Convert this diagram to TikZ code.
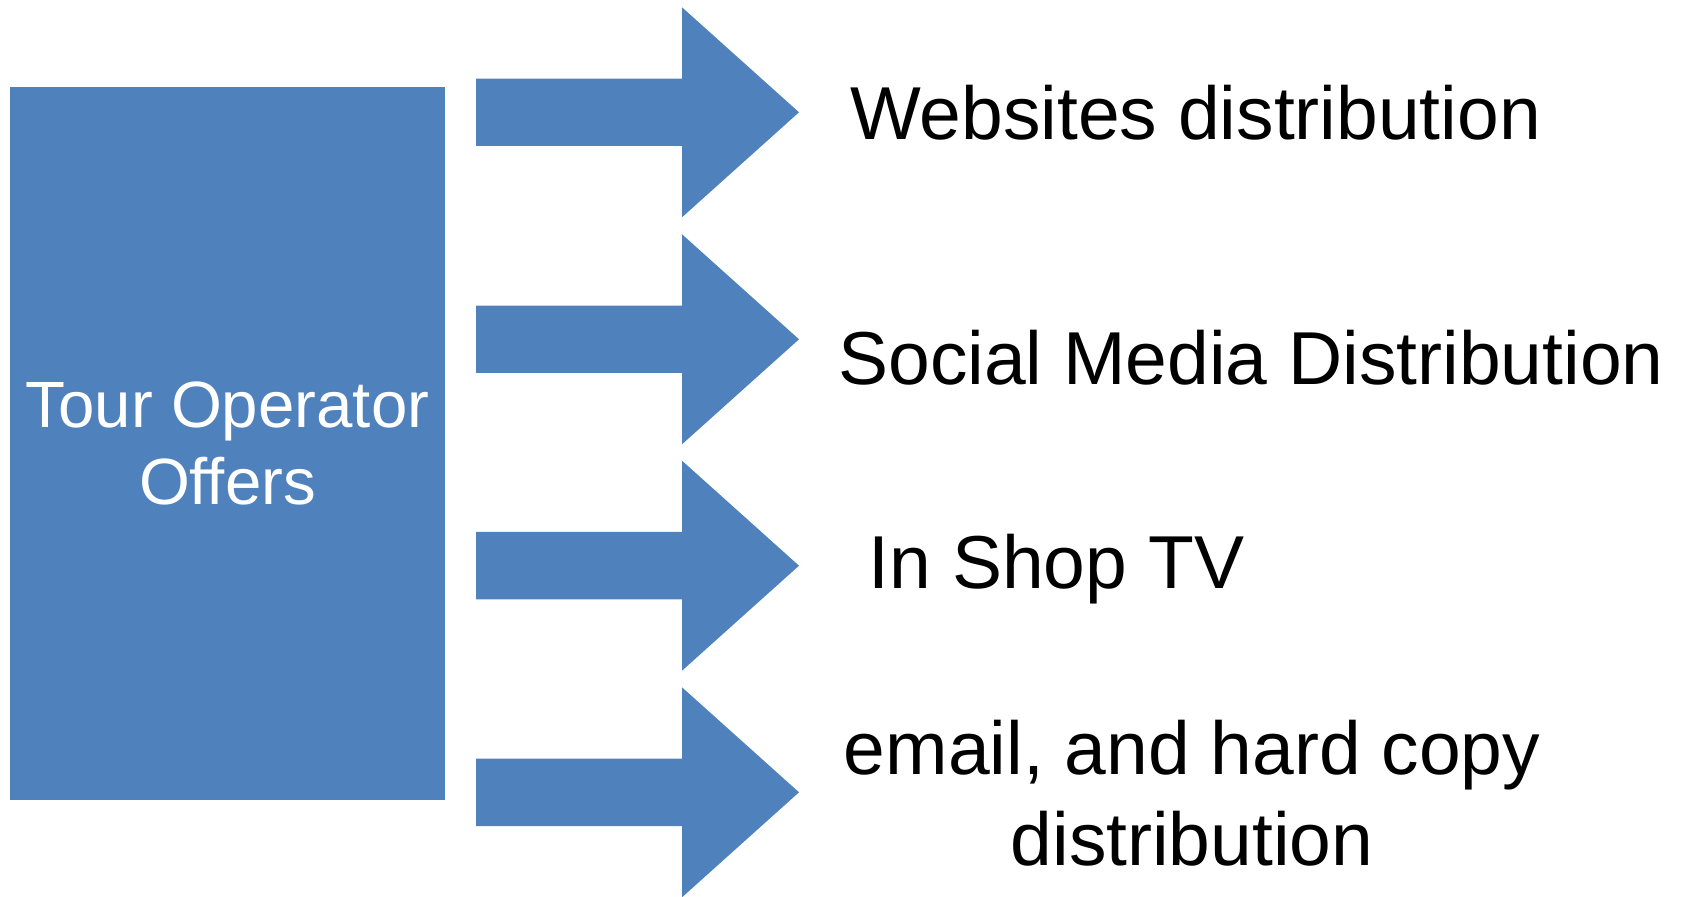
\documentclass[tikz,border=0pt]{standalone}
\usepackage{fontspec}
\setmainfont{Liberation Sans}
\definecolor{blockblue}{HTML}{4F81BD}
\begin{document}
\begin{tikzpicture}[x=0.5pt,y=-0.5pt,
  blockfill/.style={fill=blockblue},
  sourcebox/.style={fill=blockblue, inner sep=0pt, minimum width=217.5pt,
    minimum height=356.5pt, text=white, align=center,
    font=\fontsize{32.7pt}{38.5pt}\selectfont},
  channel/.style={inner sep=0pt, anchor=base west, text=black,
    font=\fontsize{37.5pt}{45.35pt}\selectfont}]
  \useasboundingbox (0,0) rectangle (1682,897);

  % source block
  \node[sourcebox] (src) at (227.5,443.5) {Tour Operator\\Offers};

  % block arrows, one per channel
  \foreach \cy in {112.3,339.3,565.7,792.3}{
    \fill[blockfill] (476,\cy-33.7) -- (682,\cy-33.7) -- (682,\cy-105)
      -- (799,\cy) -- (682,\cy+105) -- (682,\cy+33.7) -- (476,\cy+33.7) -- cycle;
  }

  % channel labels
  \node[channel] (web) at (850,140) {Websites distribution};
  \node[channel] (social) at (838,385) {Social Media Distribution};
  \node[channel] (tv) at (868.5,588.3) {In Shop TV};
  \node[channel, anchor=base, align=center] (mail) at (1192,865.7)
    {email, and hard copy\\distribution};
\end{tikzpicture}
\end{document}
